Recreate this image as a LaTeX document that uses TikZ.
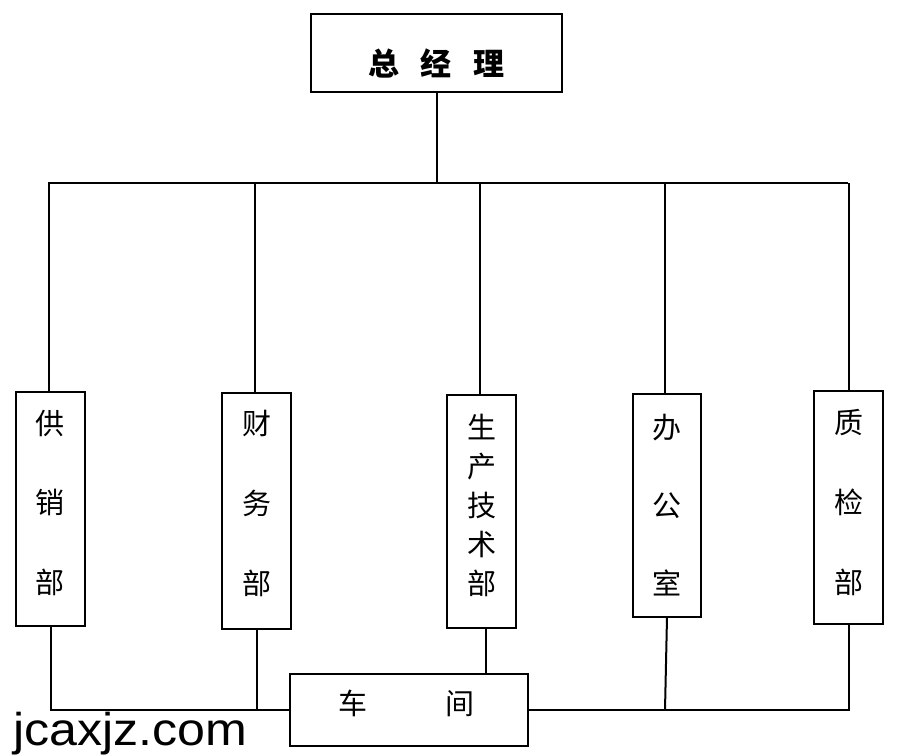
\documentclass[tikz,border=0pt]{standalone}
\usepackage{fontspec}
\newfontfamily\cjk{Noto Sans CJK SC}
\newfontfamily\wmfont{Liberation Sans}
\begin{document}
\begin{tikzpicture}[x=1pt,y=-1pt,
  box/.style={draw, line width=2pt, inner sep=0pt, outer sep=0pt, anchor=north west},
  wire/.style={line width=2pt}]
\useasboundingbox (0,0) rectangle (901,755);
% general manager
\node[box] (gm) at (311,14) {\parbox[c][78pt][t]{251pt}{\centering\cjk\bfseries\fontsize{31pt}{36pt}\selectfont\vspace*{35pt}总\hspace{22pt}经\hspace{22pt}理}};
% departments
\node[box] (b1) at (16,392) {\parbox[c][234pt][t]{69pt}{\centering\cjk\fontsize{29pt}{79.5pt}\selectfont\vspace*{18pt}供\\销\\部}};
\node[box] (b2) at (222,393) {\parbox[c][236pt][t]{69pt}{\centering\cjk\fontsize{29pt}{80pt}\selectfont\vspace*{17pt}财\\务\\部}};
\node[box] (b3) at (447,395) {\parbox[c][233pt][t]{69pt}{\centering\cjk\fontsize{29pt}{39pt}\selectfont\vspace*{19pt}生\\产\\技\\术\\部}};
\node[box] (b4) at (633,394) {\parbox[c][223pt][t]{68pt}{\centering\cjk\fontsize{29pt}{78pt}\selectfont\vspace*{20pt}办\\公\\室}};
\node[box] (b5) at (814,391) {\parbox[c][233pt][t]{69pt}{\centering\cjk\fontsize{29pt}{80pt}\selectfont\vspace*{18pt}质\\检\\部}};
% workshop
\node[box] (shop) at (290,674) {\parbox[c][72pt][t]{238pt}{\cjk\fontsize{29pt}{30pt}\selectfont\vspace*{16pt}\hspace*{48.5pt}车\hspace{78pt}间}};
% bus
\coordinate (busL) at (48,183);
\coordinate (busR) at (848,183);
\draw[wire] (busL) -- (busR);
\draw[wire] (gm.south) -- (gm.south |- busL);
\draw[wire] ([xshift=-2pt]b1.north) -- ([xshift=-2pt]b1.north |- busL);
\draw[wire] ([xshift=-1.5pt]b2.north) -- ([xshift=-1.5pt]b2.north |- busL);
\draw[wire] ([xshift=-1.5pt]b3.north) -- ([xshift=-1.5pt]b3.north |- busL);
\draw[wire] ([xshift=-2pt]b4.north) -- ([xshift=-2pt]b4.north |- busL);
\draw[wire] (b5.north) -- (b5.north |- busR);
% bottom connections
\draw[wire] (b1.south) |- (shop.west);
\draw[wire] (b2.south) -- (b2.south |- shop.west);
\draw[wire] ([xshift=4pt]b3.south) -- ([xshift=4pt]b3.south |- shop.north);
\draw[wire] (b4.south) -- ([xshift=-2pt]b4.south |- shop.east);
\draw[wire] (shop.east) -| (b5.south);
% watermark
\node[anchor=base west, inner sep=0pt, font=\wmfont\fontsize{46pt}{50pt}\selectfont] (wm) at (13,745) {\scalebox{1.09}[1]{jcaxjz.com}};
\end{tikzpicture}
\end{document}
